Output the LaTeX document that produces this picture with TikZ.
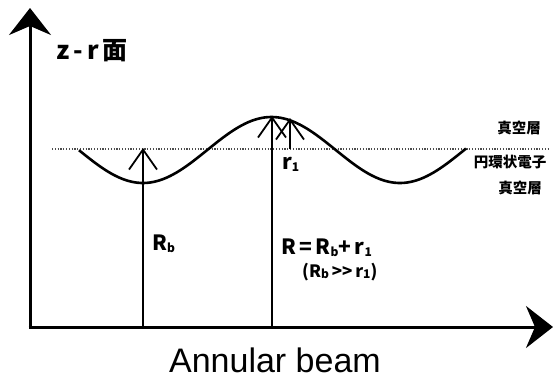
\documentclass[tikz,border=0pt]{standalone}
\usepackage{fontspec}
\newfontfamily\jpfont{Noto Sans CJK JP}
\newfontfamily\arialfont{Liberation Sans}
\usetikzlibrary{arrows.meta}
\newcommand\lowsub[1]{\raisebox{-0.2ex}{\fontsize{12}{12}\selectfont #1}}
\tikzset{
  axis/.style={line width=3pt, -{Stealth[length=27pt,width=42pt,inset=9pt]}},
  wave/.style={line width=2.6pt},
  riser/.style={line width=1.8pt, -{Straight Barb[length=20pt,width=28pt,line width=1.8pt]}},
  midline/.style={line width=1.2pt, dash pattern=on 1.2pt off 1.6pt, black!70},
  jplabel/.style={font=\jpfont\bfseries\fontsize{14.5}{14.5}\selectfont, inner sep=0pt},
  rlabel/.style={font=\jpfont\bfseries\fontsize{21}{21}\selectfont, inner sep=0pt, anchor=base west},
}
\begin{document}
\begin{tikzpicture}[x=1pt,y=-1pt]
\useasboundingbox (0,0) rectangle (555,378);
% axes
\coordinate (O) at (30,327);
\coordinate (ytip) at (30,8);
\coordinate (xtip) at (553,327);
\draw[axis] (O) -- (ytip);
\draw[axis] ([xshift=-1.5pt]O) -- (xtip);
% dotted middle line
\coordinate (m0) at (52,149);
\coordinate (m1) at (548,149);
\draw[midline] (m0) -- (m1);
% wave
\draw[wave, domain=79:466, samples=120, smooth] plot (\x, {150+33*cos(1.40078*(\x-143))});
% risers
\coordinate (b0) at (143,327);
\coordinate (b1) at (143,148);
\coordinate (r0) at (272,327);
\coordinate (r1) at (272,116);
\coordinate (s0) at (290,149);
\coordinate (s1) at (290,118);
\draw[riser] (b0) -- (b1);
\draw[riser] (r0) -- (r1);
\draw[riser] (s0) -- (s1);
% labels
\node[jplabel, font=\jpfont\bfseries\fontsize{25}{25}\selectfont, anchor=base west] (zr) at (56,59) {z\,-\,r\hspace{3pt}面};
\node[jplabel] (vac1) at (519,128) {真空層};
\node[jplabel] (ring) at (510,162) {円環状電子};
\node[jplabel] (vac2) at (520,188) {真空層};
\node[rlabel] (rsmall) at (282,169) {r\lowsub{1}};
\node[rlabel] (rb) at (152,250) {R\lowsub{b}};
\node[rlabel] (req) at (281,254) {R\,=\,R\lowsub{b}+\,r\lowsub{1}};
\node[rlabel, font=\jpfont\bfseries\fontsize{17}{17}\selectfont] (cond) at (302,277) {(R\lowsub{b}\,>>\,r\lowsub{1})};
\node[font=\arialfont\fontsize{34}{34}\selectfont, inner sep=0pt, anchor=base] (title) at (275,372) {Annular beam};
\end{tikzpicture}
\end{document}
